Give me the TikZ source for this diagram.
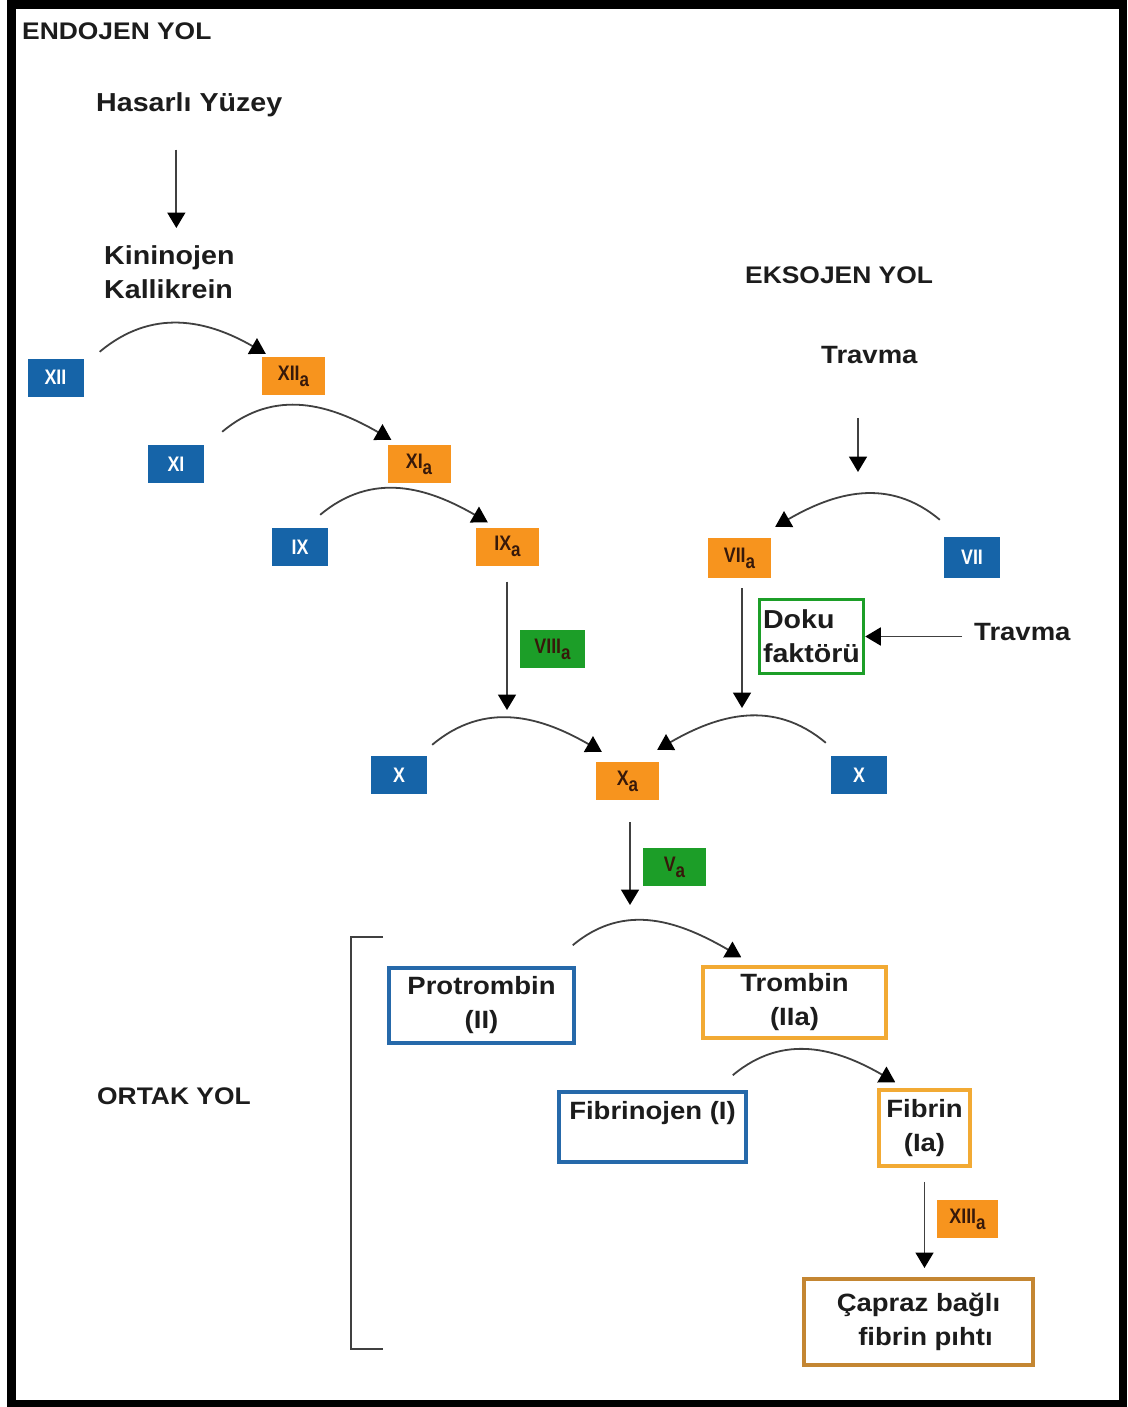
\documentclass[tikz,border=0pt]{standalone}
\usepackage{fontspec}
\setmainfont{Liberation Sans}[FakeStretch=1.1]
\newfontfamily\boxfont{Liberation Sans}[FakeStretch=0.85]
\usetikzlibrary{arrows.meta}
\definecolor{bluebox}{RGB}{22,100,168}
\definecolor{orangebox}{RGB}{247,148,30}
\definecolor{greenbox}{RGB}{28,158,40}
\definecolor{blueline}{RGB}{38,105,170}
\definecolor{orangeline}{RGB}{242,170,52}
\definecolor{brownline}{RGB}{196,134,50}
\definecolor{txt}{RGB}{28,28,28}
\definecolor{darktxt}{RGB}{55,25,10}
\newcommand\lowa{\raisebox{-6pt}{\fontsize{20}{20}\selectfont a}}
\begin{document}
\begin{tikzpicture}[x=1pt,y=1pt,
  lbl/.style={font=\fontsize{25}{34}\selectfont\bfseries, text=txt, inner sep=0pt, align=left, anchor=north west},
  fac/.style={font=\boxfont\fontsize{21}{24}\selectfont\bfseries, inner sep=0pt, minimum height=38pt},
  bf/.style={fac, fill=bluebox, text=white, minimum width=56pt},
  of/.style={fac, fill=orangebox, text=darktxt, minimum width=63pt},
  gf/.style={fac, fill=greenbox, text=darktxt, minimum width=63pt},
  obox/.style={font=\fontsize{25}{34}\selectfont\bfseries, text=txt, inner sep=0pt, align=center, line width=3.5pt},
  arr/.style={line width=1.8pt, draw=black!75, -{Triangle[width=18pt,length=15.5pt,fill=black,color=black]}},
  curvr/.style={arr, out=40, in=150, looseness=1.05},
  curvl/.style={arr, out=140, in=30, looseness=1.05},
  bracket/.style={line width=2pt, draw=black!75}
]
\useasboundingbox (0,0) rectangle (1127,-1407);
\fill[black] (7,0) rectangle (1127,-1407);
\fill[white] (16,-9) rectangle (1119,-1400);

% labels
\node[lbl, font=\fontsize{24}{30}\selectfont\bfseries] (endo) at (22,-23) {ENDOJEN YOL};
\node[lbl, font=\fontsize{26}{34}\selectfont\bfseries] (hasarli) at (96,-92) {Hasarlı Yüzey};
\node[lbl, font=\fontsize{26}{34}\selectfont\bfseries] (kinin) at (104,-245) {Kininojen\\Kallikrein};
\node[lbl, font=\fontsize{24}{30}\selectfont\bfseries] (ekso) at (745,-267) {EKSOJEN YOL};
\node[lbl] (travma1) at (821,-346) {Travma};
\node[lbl] (travma2) at (974,-623) {Travma};
\node[lbl, font=\fontsize{24}{30}\selectfont\bfseries] (ortak) at (97,-1088) {ORTAK YOL};

% factor boxes
\node[bf] (xii) at (55.5,-377.5) {XII};
\node[of] (xiia) at (293.5,-376) {XII\lowa};
\node[bf] (xi) at (176,-464) {XI};
\node[of] (xia) at (419,-464) {XI\lowa};
\node[bf] (ix) at (300,-547) {IX};
\node[of] (ixa) at (507.5,-546.5) {IX\lowa};
\node[gf, minimum width=65pt] (viiia) at (552.5,-649) {VIII\lowa};
\node[of, minimum height=40pt] (viia) at (739.5,-558) {VII\lowa};
\node[bf, minimum height=41pt] (vii) at (972,-557.5) {VII};
\node[obox, draw=greenbox, minimum width=104pt, minimum height=74pt, align=left,
      font=\fontsize{26}{34}\selectfont\bfseries] (doku) at (811.5,-636.5) {Doku\\faktörü};
\node[bf] (xl) at (399,-775) {X};
\node[of] (xa) at (627.5,-781) {X\lowa};
\node[bf] (xr) at (859,-775) {X};
\node[gf] (va) at (674.5,-867) {V\lowa};

% common pathway boxes
\node[obox, draw=blueline, minimum width=185pt, minimum height=75pt] (prot) at (481.5,-1005.5) {Protrombin\\(II)};
\node[obox, draw=orangeline, minimum width=183pt, minimum height=71pt] (trom) at (794.5,-1002.5) {Trombin\\(IIa)};
\node[obox, draw=blueline, minimum width=187pt, minimum height=70pt] (fibj) at (652.5,-1127) {Fibrinojen (I)\\\mbox{}};
\node[obox, draw=orangeline, minimum width=91pt, minimum height=76pt] (fib) at (924.5,-1128) {Fibrin\\(Ia)};
\node[of, minimum width=61pt] (xiiia) at (967.5,-1219) {XIII\lowa};
\node[obox, draw=brownline, line width=4pt, minimum width=229pt, minimum height=86pt] (capraz) at (918.5,-1322) {Çapraz bağlı\\\hspace*{14pt}fibrin pıhtı};

% free ends
\coordinate (t1end) at (858,-472);
\coordinate (ixend) at (507,-710);
\coordinate (viiaend) at (742,-708);
\coordinate (xaend) at (630,-905);

% straight arrows
\draw[arr] ([xshift=7pt,yshift=-33pt]kinin.north |- hasarli.south) -- ([xshift=7pt,yshift=17pt]kinin.north);
\draw[arr] ([yshift=-54pt]t1end |- travma1.south) -- (t1end);
\draw[arr] ([yshift=-16pt]ixa.south -| ixend) -- (ixend);
\draw[arr] ([yshift=-10pt]viia.south -| viiaend) -- (viiaend);
\draw[arr] ([xshift=-12pt]travma2.west |- doku.east) -- (doku.east);
\draw[arr] ([yshift=-22pt]xa.south -| xaend) -- (xaend);
\draw[arr] ([yshift=-14pt]fib.south) -- ([yshift=9pt]fib.south |- capraz.north);

% curved arrows
\draw[curvr] ([xshift=16pt,yshift=6.5pt]xii.north east) to ([xshift=4pt,yshift=3pt]xiia.north west);
\draw[curvr] ([xshift=18pt,yshift=13pt]xi.north east) to ([xshift=4pt,yshift=5pt]xia.north west);
\draw[curvr] ([xshift=-8pt,yshift=13pt]ix.north east) to ([xshift=12pt,yshift=5pt]ixa.north west);
\draw[curvl] ([xshift=-4pt,yshift=17pt]vii.north west) to ([xshift=4pt,yshift=11pt]viia.north east);
\draw[curvr] ([xshift=5pt,yshift=11pt]xl.north east) to ([xshift=6pt,yshift=10pt]xa.north west);
\draw[curvl] ([xshift=-5pt,yshift=13pt]xr.north west) to ([xshift=-2pt,yshift=12pt]xa.north east);
\draw[curvr] ([xshift=-3pt,yshift=21pt]prot.north east) to ([xshift=40pt,yshift=8pt]trom.north west);
\draw[curvr] ([xshift=-15pt,yshift=15pt]fibj.north east) to ([xshift=18pt,yshift=6pt]fib.north west);

% bracket
\draw[bracket] (383,-937) -- (351,-937) -- (351,-1349) -- (383,-1349);
\end{tikzpicture}
\end{document}
